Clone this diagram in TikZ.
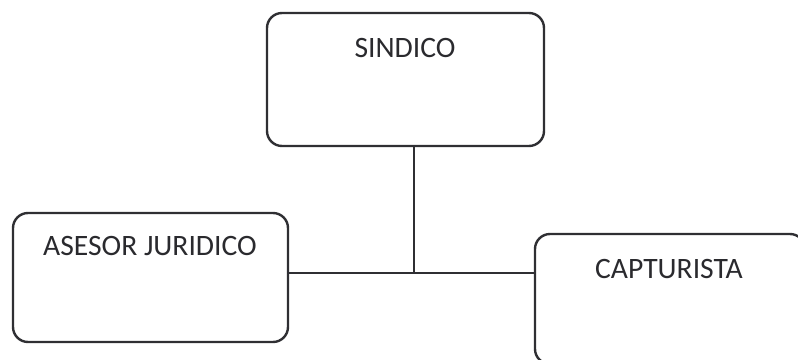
\documentclass[tikz,border=0pt]{standalone}
\usepackage{fontspec}
\setmainfont{Carlito}
\usepackage{tikz}
\usetikzlibrary{positioning,calc}
\definecolor{ink}{HTML}{2F2F33}
\definecolor{letra}{HTML}{2A2A2E}
\tikzset{
  cargo/.style={draw=ink,line width=1.2pt,rounded corners=7.5pt,inner sep=0pt},
  titulo/.style={text=letra,font=\fontsize{14.8}{17}\selectfont,inner sep=0pt,anchor=base},
  enlace/.style={draw=ink,line width=1pt},
}

\begin{document}
\begin{tikzpicture}[x=0.5pt,y=-0.5pt]
\useasboundingbox (0,0) rectangle (798,359);
\clip (0,0) rectangle (798,359);
\foreach \name/\cx/\cy/\w/\h/\tx/\ty/\txt in {
  sind/405.5/79.5/138.5pt/66.5pt/405/57/{SINDICO},
  ases/150.5/277.5/137.5pt/64.5pt/150/255/{ASESOR JURIDICO},
  capt/670/299/135pt/65pt/669/278/{CAPTURISTA}} {
  \node[cargo,minimum width=\w,minimum height=\h] (\name) at (\cx,\cy) {};
  \node[titulo] (\name t) at (\tx,\ty) {\txt};
}
\coordinate (union) at (414,273);
\draw[enlace] (sind.south -| union) -- (union);
\draw[enlace] (ases.east |- union) -- (capt.west |- union);
\end{tikzpicture}
\end{document}
